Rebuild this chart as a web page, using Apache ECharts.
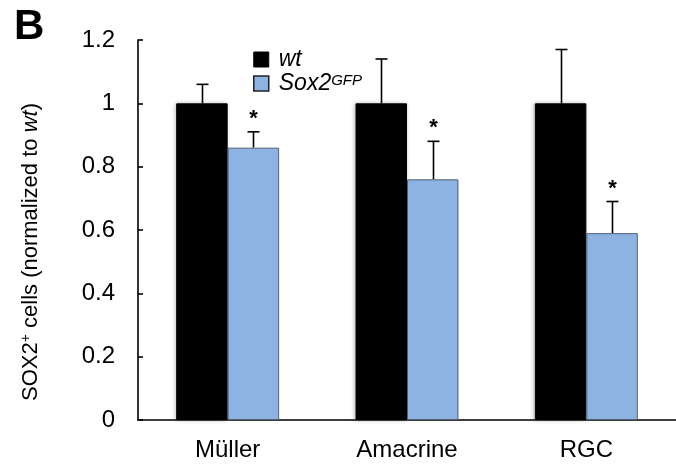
<!DOCTYPE html>
<html><head><meta charset="utf-8">
<script src="https://cdn.jsdelivr.net/npm/echarts@6/dist/echarts.min.js"></script>
<style>html,body{margin:0;padding:0;background:#fff}#c{width:676px;height:468px}</style>
</head><body><div id="c"></div>
<script>
const categories = ['Müller', 'Amacrine', 'RGC'];
const wtValues = [1, 1, 1];
const wtErr = [0.06, 0.14, 0.17];
const gfpValues = [0.86, 0.76, 0.59];
const gfpErr = [0.05, 0.12, 0.10];
const gfpSignificant = [true, true, true];
const yTicks = [0, 0.2, 0.4, 0.6, 0.8, 1, 1.2];

const FONT = 'Liberation Sans, Arial, sans-serif';
const chart = echarts.init(document.getElementById('c'));
const BAR_FRAC = 0.287;

function errRender(values, errs, side, withStar) {
  return function (params, api) {
    const i = api.value(0);
    const band = api.size([1, 0])[0];
    const off = side * band * BAR_FRAC / 2;
    const top = api.coord([i, values[i]]);
    const cap = api.coord([i, values[i] + errs[i]]);
    const x = Math.round(top[0] + off) + 0.5;
    const children = [
      {type: 'line', shape: {x1: x, y1: top[1], x2: x, y2: cap[1]}, style: {stroke: '#000', lineWidth: 1.6}},
      {type: 'line', shape: {x1: x - 6, y1: cap[1], x2: x + 6, y2: cap[1]}, style: {stroke: '#000', lineWidth: 1.6}}
    ];
    if (withStar && withStar[i]) {
      children.push({type: 'text', style: {text: '*', x: x, y: cap[1] - 13, fill: '#000', font: 'bold 22px ' + FONT, align: 'center', verticalAlign: 'middle'}});
    }
    return {type: 'group', children};
  };
}

chart.setOption({
  animation: false,
  grid: {left: 138, width: 545, top: 40, bottom: 48},
  title: {text: 'B', left: 9, top: 1, textStyle: {fontFamily: FONT, fontWeight: 'bold', fontSize: 42, color: '#000'}},
  graphic: [{
    type: 'text', x: 31, y: 252, rotation: Math.PI / 2,
    style: {
      text: '{n|SOX2}{s|+}{n| cells (normalized to }{i|wt}{n|)}',
      align: 'center', verticalAlign: 'middle',
      rich: {
        n: {fontFamily: FONT, fontSize: 22, fill: '#000'},
        i: {fontFamily: FONT, fontSize: 22, fill: '#000', fontStyle: 'italic'},
        s: {fontFamily: FONT, fontSize: 14, fill: '#000', verticalAlign: 'top', padding: [0, 0, 9, 0]}
      }
    }
  }],
  legend: {
    orient: 'vertical', left: 248, top: 43, itemWidth: 15, itemHeight: 15, itemGap: 1,
    data: [
      {name: 'wt', icon: 'rect', itemStyle: {borderColor: '#000', borderWidth: 1}},
      {name: 'Sox2GFP', icon: 'rect', itemStyle: {borderColor: '#222', borderWidth: 1.5}}
    ],
    formatter: function (n) { return n === 'wt' ? '{i|wt}' : '{i|Sox2}{s|GFP}'; },
    textStyle: {
      fontFamily: FONT, fontSize: 23, color: '#000', padding: [0, 0, 0, 5],
      rich: {
        i: {fontFamily: FONT, fontSize: 23, fontStyle: 'italic', color: '#000', lineHeight: 21},
        s: {fontFamily: FONT, fontSize: 15, fontStyle: 'italic', color: '#000', verticalAlign: 'top', padding: [0, 0, 10, 0], lineHeight: 21}
      }
    }
  },
  xAxis: {
    type: 'category', data: categories,
    axisLine: {lineStyle: {color: '#000', width: 1.6}},
    axisTick: {inside: true, length: 7, lineStyle: {color: '#000', width: 1.6}},
    axisLabel: {fontFamily: FONT, fontSize: 24, color: '#000', margin: 18}
  },
  yAxis: {
    type: 'value', min: 0, max: 1.2, interval: 0.2,
    splitLine: {show: false},
    axisLine: {show: true, lineStyle: {color: '#000', width: 1.6}},
    axisTick: {show: true, inside: true, length: 5, lineStyle: {color: '#000', width: 1.6}},
    axisLabel: {fontFamily: FONT, fontSize: 24, color: '#000', margin: 23,
      formatter: function (v) { const t = yTicks.find(x => Math.abs(x - v) < 1e-9); return t === undefined ? '' : String(t); }}
  },
  series: [
    {name: 'wt', type: 'bar', data: wtValues, barWidth: (BAR_FRAC * 100) + '%', barGap: '0%',
      itemStyle: {color: '#000', borderColor: '#000', borderWidth: 1, shadowColor: 'rgba(0,0,0,0.25)', shadowBlur: 4, shadowOffsetX: -1}},
    {name: 'Sox2GFP', type: 'bar', data: gfpValues, barWidth: (BAR_FRAC * 100) + '%', barGap: '0%',
      itemStyle: {color: '#8DB3E2', borderColor: '#4F5F73', borderWidth: 1}},
    {type: 'custom', data: categories.map((c, i) => [i]), renderItem: errRender(wtValues, wtErr, -1, null), z: 1},
    {type: 'custom', data: categories.map((c, i) => [i]), renderItem: errRender(gfpValues, gfpErr, 1, gfpSignificant), z: 1}
  ]
});
</script></body></html>
